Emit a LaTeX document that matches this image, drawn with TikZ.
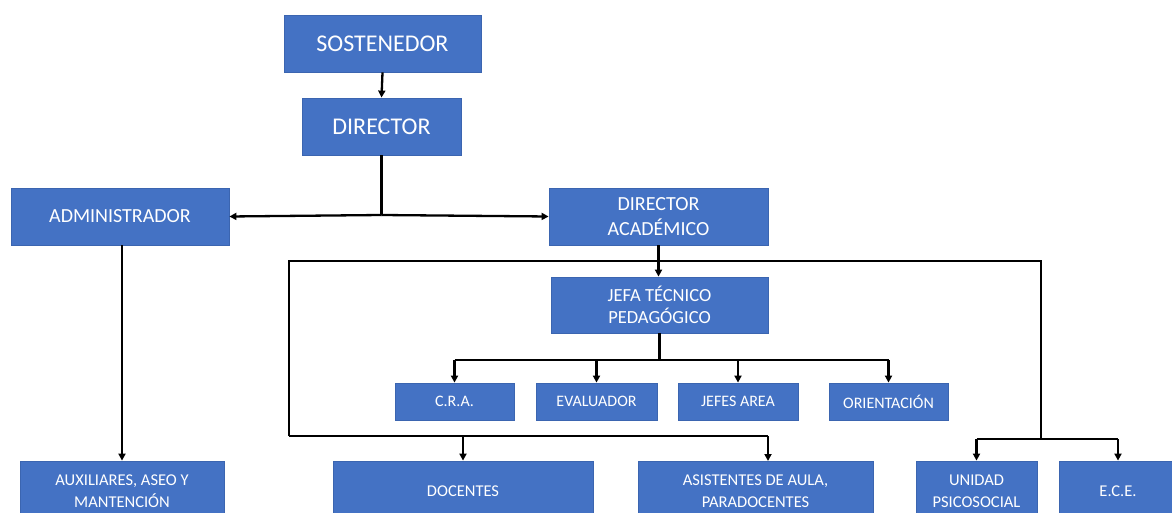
\documentclass[tikz,border=0pt]{standalone}
\usepackage{fontspec}
\setmainfont{Carlito}
\usetikzlibrary{arrows.meta}
\definecolor{ofblue}{HTML}{4472C4}
\definecolor{ofborder}{HTML}{3B65B0}
\begin{document}
\begin{tikzpicture}[x=1pt,y=-1pt,
  box/.style={fill=ofblue, draw=ofborder, line width=0.8pt, text=white, align=center, inner sep=0pt},
  fA/.style={font=\fontsize{24}{28}\selectfont},
  fB/.style={font=\fontsize{20}{25}\selectfont},
  fC/.style={font=\fontsize{18.5}{22}\selectfont},
  fD/.style={font=\fontsize{16}{20}\selectfont},
  fE/.style={font=\fontsize{16.5}{22}\selectfont},
  conn/.style={line width=2.3pt, black},
  arr/.style={conn, -{Triangle[length=7pt,width=7pt]}}]
\useasboundingbox (0,0) rectangle (1172,513);
\clip (0,0) rectangle (1172,513);
% top
\node[box,fA,minimum width=197pt,minimum height=57pt] (sost) at (382.5,43.5) {SOSTENEDOR};
\node[box,fA,minimum width=159pt,minimum height=57pt] (dir) at (381.5,126.5) {DIRECTOR};
\node[box,fB,minimum width=218pt,minimum height=57pt] (admin) at (120,216.5) {ADMINISTRADOR};
\node[box,fB,minimum width=219pt,minimum height=57pt] (dacad) at (658.5,216.5) {DIRECTOR\\ACADÉMICO};
\node[box,fC,minimum width=217pt,minimum height=56pt] (jefa) at (659.5,305) {JEFA TÉCNICO\\PEDAGÓGICO};
% middle row
\node[box,fD,minimum width=119pt,minimum height=37pt] (cra) at (454.5,401.5) {C.R.A.};
\node[box,fD,minimum width=121pt,minimum height=37pt] (eval) at (596.5,401.5) {EVALUADOR};
\node[box,fD,minimum width=120pt,minimum height=37pt] (jefes) at (738,401.5) {JEFES AREA};
\node[box,fD,minimum width=119pt,minimum height=37pt] (orient) at (888.5,401.5) {ORIENTACIÓN};
% bottom row
\node[box,fE,minimum width=204pt,minimum height=60pt] (aux) at (122,491) {AUXILIARES, ASEO Y\\MANTENCIÓN};
\node[box,fE,minimum width=260pt,minimum height=60pt] (doc) at (463,491) {DOCENTES};
\node[box,fE,minimum width=235pt,minimum height=60pt] (asis) at (755.5,491) {ASISTENTES DE AULA,\\PARADOCENTES};
\node[box,fE,minimum width=121pt,minimum height=60pt] (unid) at (976.5,491) {UNIDAD\\PSICOSOCIAL};
\node[box,fE,minimum width=118pt,minimum height=60pt] (ece) at (1118,491) {E.C.E.};
% coordinates
\coordinate (j1) at (381.5,215);
\coordinate (j2) at (658.5,261);
\coordinate (lt) at (289,261);
\coordinate (rt) at (1041,261);
\coordinate (lb) at (289,436);
\coordinate (rb) at (1041,439);
\coordinate (j3) at (659.5,360);
\coordinate (asisin) at (768,461);
% connectors
\draw[arr] (sost.south) -- (dir.north);
\draw[conn] (dir.south) -- (j1);
\draw[arr] (j1) -- (admin.east);
\draw[arr] (j1) -- (dacad.west);
\draw[arr] (admin.south -| aux.north) -- (aux.north);
\draw[conn] (dacad.south) -- (j2);
\draw[arr] (j2) -- (j2 |- jefa.north);
\draw[conn] (lb) -- (lt) -- (rt) -- (rb);
\draw[conn] (jefa.south -| j3) -- (j3);
\draw[conn] (j3 -| cra) -- (j3 -| orient);
\draw[arr] (j3 -| cra) -- (cra.north);
\draw[arr] (j3 -| eval) -- (eval.north);
\draw[arr] (j3 -| jefes) -- (jefes.north);
\draw[arr] (j3 -| orient) -- (orient.north);
\draw[conn] (lb) -- (lb -| asisin);
\draw[arr] (lb -| doc) -- (doc.north);
\draw[arr] (lb -| asisin) -- (asisin);
\draw[conn] (rb -| unid) -- (rb -| ece);
\draw[arr] (rb -| unid) -- (unid.north);
\draw[arr] (rb -| ece) -- (ece.north);
\end{tikzpicture}
\end{document}
